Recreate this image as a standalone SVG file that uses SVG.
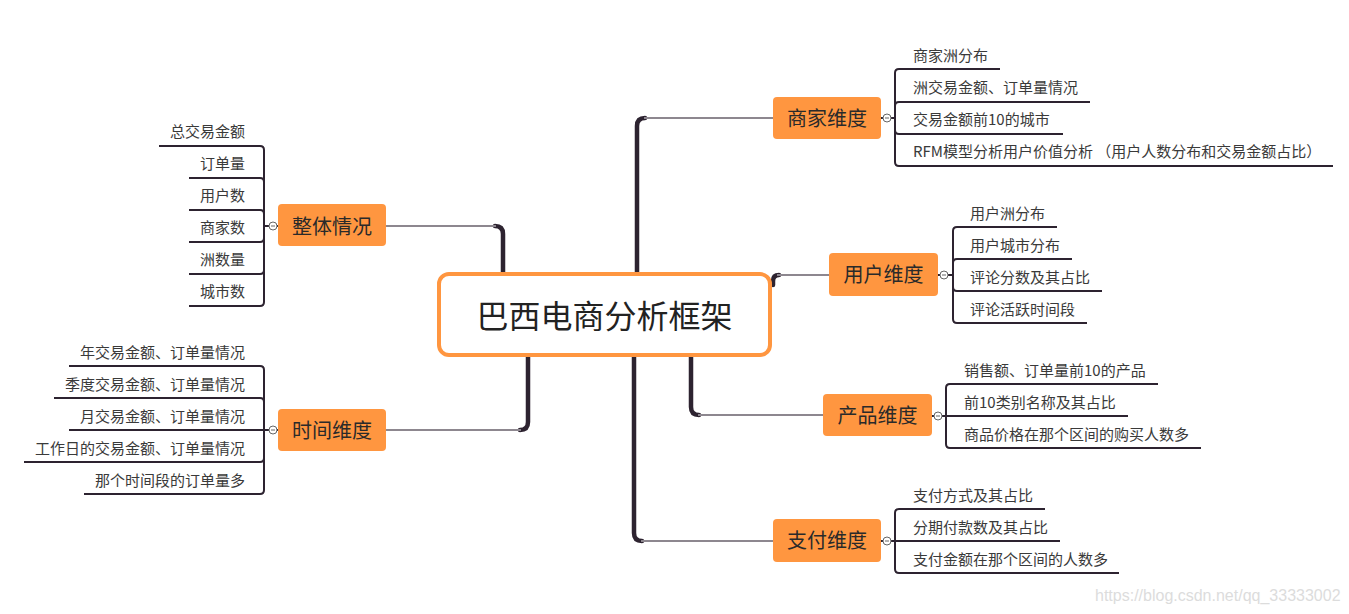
<svg xmlns="http://www.w3.org/2000/svg" width="1349" height="614" viewBox="0 0 1349 614">
<style>
  .thick{fill:none;stroke:#2d2330;stroke-width:4.5;stroke-linecap:round}
  .gray{fill:none;stroke:#8d878f;stroke-width:2}
  .br{fill:none;stroke:#2d2330;stroke-width:2}
  .node rect{fill:#ff9640}
  .nt{font-family:"Noto Sans CJK SC","Noto Sans",sans-serif;font-size:20px;fill:#2a2a2a;text-anchor:middle;dominant-baseline:central}
  .ct{font-family:"Noto Sans CJK SC","Noto Sans",sans-serif;font-size:15px;fill:#3a3a3a;dominant-baseline:central}
  .l{text-anchor:end}
  .circ{fill:#fff;stroke:#666;stroke-width:1}
  .minus{stroke:#666;stroke-width:1}
</style>
<rect width="1349" height="614" fill="#fff"/>
<g id="connectors">
  <path class="thick" d="M503 282 V234 Q503 226 495 226"/>
  <path class="gray" d="M386 226 H496"/>
  <path class="thick" d="M528 350 V422 Q528 430 520 430"/>
  <path class="gray" d="M386 430 H521"/>
  <path class="thick" d="M637 282 V126 Q637 118 645 118"/>
  <path class="gray" d="M644 118 H773"/>
  <path class="thick" d="M634 350 V533 Q634 541 642 541"/>
  <path class="gray" d="M641 541 H773"/>
  <path class="thick" d="M691 350 V407 Q691 415 699 415"/>
  <path class="gray" d="M698 415 H823"/>
  <path class="thick" d="M773 285 V281 Q773 275 779 275"/>
  <path class="gray" d="M777 275 H830"/>
</g>
<g id="center">
  <rect x="439" y="274" width="331" height="81" rx="10" fill="#fff" stroke="#ff9640" stroke-width="4"/>
  <text x="604.5" y="313.5" font-family="'Noto Sans CJK SC','Noto Sans',sans-serif" font-size="32" fill="#222" text-anchor="middle" dominant-baseline="central">巴西电商分析框架</text>
</g>
<g id="n-overall" class="node">
  <rect x="278" y="204" width="108" height="42" rx="4"/>
  <text class="nt" x="332" y="225">整体情况</text>
  <path class="br" d="M264 226 H269 M277 226 H278"/>
  <circle class="circ" cx="273" cy="226" r="4"/><path class="minus" d="M271 226 H275"/>
  <path class="br" d="M264 226 V150 Q264 146 260 146 H159 M264 226 V182 Q264 178 260 178 H189 M264 226 V214 Q264 210 260 210 H189 M264 226 V238 Q264 242 260 242 H189 M264 226 V270 Q264 274 260 274 H189 M264 226 V302 Q264 306 260 306 H189"/>
  <text class="ct l" x="245" y="130.5">总交易金额</text>
  <text class="ct l" x="245" y="162.5">订单量</text>
  <text class="ct l" x="245" y="194.5">用户数</text>
  <text class="ct l" x="245" y="226.5">商家数</text>
  <text class="ct l" x="245" y="258.5">洲数量</text>
  <text class="ct l" x="245" y="290.5">城市数</text>
</g>
<g id="n-time" class="node">
  <rect x="278" y="409" width="108" height="42" rx="4"/>
  <text class="nt" x="332" y="429">时间维度</text>
  <path class="br" d="M264 430 H269 M277 430 H278"/>
  <circle class="circ" cx="273" cy="430" r="4"/><path class="minus" d="M271 430 H275"/>
  <path class="br" d="M264 430 V370 Q264 366 260 366 H69 M264 430 V402 Q264 398 260 398 H54 M264 430 H69 M264 430 V458 Q264 462 260 462 H24 M264 430 V490 Q264 494 260 494 H84"/>
  <text class="ct l" x="245" y="351">年交易金额、订单量情况</text>
  <text class="ct l" x="245" y="383">季度交易金额、订单量情况</text>
  <text class="ct l" x="245" y="415">月交易金额、订单量情况</text>
  <text class="ct l" x="245" y="447">工作日的交易金额、订单量情况</text>
  <text class="ct l" x="245" y="479">那个时间段的订单量多</text>
</g>
<g id="n-merchant" class="node">
  <rect x="773" y="97" width="108" height="42" rx="4"/>
  <text class="nt" x="827" y="117">商家维度</text>
  <path class="br" d="M881 118 H883 M891 118 H895"/>
  <circle class="circ" cx="887" cy="118" r="4"/><path class="minus" d="M885 118 H889"/>
  <path class="br" d="M895 118 V73 Q895 69 899 69 H1000 M895 118 V106 Q895 102 899 102 H1090 M895 118 V130 Q895 134 899 134 H1063 M895 118 V162 Q895 166 899 166 H1333"/>
  <text class="ct" x="913" y="54">商家洲分布</text>
  <text class="ct" x="913" y="86.5">洲交易金额、订单量情况</text>
  <text class="ct" x="913" y="118.5">交易金额前10的城市</text>
  <text class="ct" x="913" y="150.5">RFM模型分析用户价值分析 （用户人数分布和交易金额占比）</text>
</g>
<g id="n-user" class="node">
  <rect x="829" y="253" width="109" height="43" rx="4"/>
  <text class="nt" x="883.5" y="273.5">用户维度</text>
  <path class="br" d="M938 275 H940 M948 275 H953"/>
  <circle class="circ" cx="944" cy="275" r="4"/><path class="minus" d="M942 275 H946"/>
  <path class="br" d="M953 275 V231 Q953 227 957 227 H1057 M953 275 V263 Q953 259 957 259 H1072 M953 275 V287 Q953 291 957 291 H1102 M953 275 V319 Q953 323 957 323 H1087"/>
  <text class="ct" x="970" y="212">用户洲分布</text>
  <text class="ct" x="970" y="244">用户城市分布</text>
  <text class="ct" x="970" y="276">评论分数及其占比</text>
  <text class="ct" x="970" y="308">评论活跃时间段</text>
</g>
<g id="n-product" class="node">
  <rect x="823" y="394" width="109" height="42" rx="4"/>
  <text class="nt" x="877.5" y="414">产品维度</text>
  <path class="br" d="M932 416 H934 M942 416 H946"/>
  <circle class="circ" cx="938" cy="416" r="4"/><path class="minus" d="M936 416 H940"/>
  <path class="br" d="M946 416 V388 Q946 384 950 384 H1158 M946 416 H1128 M946 416 V444 Q946 448 950 448 H1201"/>
  <text class="ct" x="964" y="369">销售额、订单量前10的产品</text>
  <text class="ct" x="964" y="401">前10类别名称及其占比</text>
  <text class="ct" x="964" y="433">商品价格在那个区间的购买人数多</text>
</g>
<g id="n-pay" class="node">
  <rect x="773" y="519" width="108" height="43" rx="4"/>
  <text class="nt" x="827" y="539.5">支付维度</text>
  <path class="br" d="M881 541 H883 M891 541 H895"/>
  <circle class="circ" cx="887" cy="541" r="4"/><path class="minus" d="M885 541 H889"/>
  <path class="br" d="M895 541 V513 Q895 509 899 509 H1045 M895 541 H1060 M895 541 V569 Q895 573 899 573 H1119"/>
  <text class="ct" x="913" y="494">支付方式及其占比</text>
  <text class="ct" x="913" y="526">分期付款数及其占比</text>
  <text class="ct" x="913" y="558">支付金额在那个区间的人数多</text>
</g>
<text x="1095" y="601" font-family="'Liberation Sans',Arial,sans-serif" font-size="16" fill="#dcdcdc">https://blog.csdn.net/qq_33333002</text>
</svg>
